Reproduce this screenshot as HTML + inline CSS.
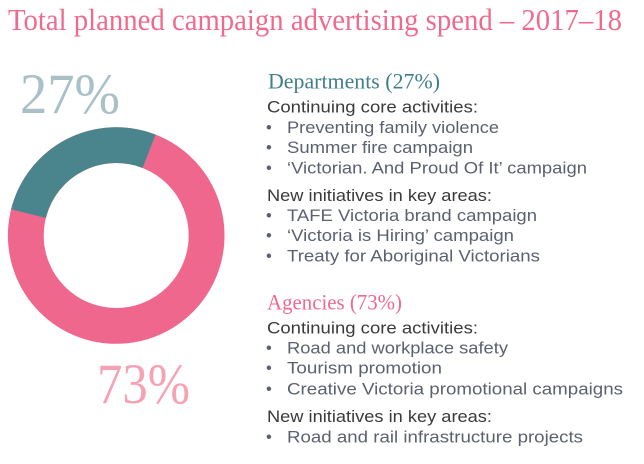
<!DOCTYPE html>
<html><head><meta charset="utf-8"><style>
html,body{margin:0;padding:0;background:#fff;}
svg{display:block;}
.serif{font-family:"Liberation Serif",serif;}
.sans{font-family:"Liberation Sans",sans-serif;font-size:16.5px;}
.h{fill:#3a3a3a;}
.b{fill:#5c6170;}
</style></head><body>
<svg width="644" height="464" viewBox="0 0 644 464" xmlns="http://www.w3.org/2000/svg">
<rect width="644" height="464" fill="#fff"/>
<text class="serif" x="8" y="30" font-size="31" fill="#f06a8e" textLength="614" lengthAdjust="spacingAndGlyphs">Total planned campaign advertising spend – 2017–18</text>

<circle cx="116.2" cy="235.5" r="90.4" fill="none" stroke="#f0678d" stroke-width="35.8"/>
<path d="M 11.12 209.3 A 108.3 108.3 0 0 1 155.55 134.6 L 142.54 167.95 A 72.5 72.5 0 0 0 45.85 217.96 Z" fill="#4a848d"/>

<text class="serif" x="20" y="113" font-size="57" fill="#a9c0c8" textLength="100" lengthAdjust="spacingAndGlyphs">27%</text>
<text class="serif" x="97" y="403" font-size="57" fill="#f6a2b5" textLength="93" lengthAdjust="spacingAndGlyphs">73%</text>

<text class="serif" x="268" y="88.5" font-size="22" fill="#3f7f8c" textLength="172" lengthAdjust="spacingAndGlyphs">Departments (27%)</text>
<text class="sans h" x="267" y="112.5" textLength="211" lengthAdjust="spacingAndGlyphs">Continuing core activities:</text>
<text class="sans b" x="266" y="133">•</text>
<text class="sans b" x="287" y="133" textLength="212" lengthAdjust="spacingAndGlyphs">Preventing family violence</text>
<text class="sans b" x="266" y="153">•</text>
<text class="sans b" x="287" y="153" textLength="186" lengthAdjust="spacingAndGlyphs">Summer fire campaign</text>
<text class="sans b" x="266" y="173.5">•</text>
<text class="sans b" x="287" y="173.5" textLength="300" lengthAdjust="spacingAndGlyphs">‘Victorian. And Proud Of It’ campaign</text>
<text class="sans h" x="267" y="201" textLength="225" lengthAdjust="spacingAndGlyphs">New initiatives in key areas:</text>
<text class="sans b" x="266" y="221">•</text>
<text class="sans b" x="287" y="221" textLength="250" lengthAdjust="spacingAndGlyphs">TAFE Victoria brand campaign</text>
<text class="sans b" x="266" y="241">•</text>
<text class="sans b" x="287" y="241" textLength="227" lengthAdjust="spacingAndGlyphs">‘Victoria is Hiring’ campaign</text>
<text class="sans b" x="266" y="261.5">•</text>
<text class="sans b" x="287" y="261.5" textLength="253" lengthAdjust="spacingAndGlyphs">Treaty for Aboriginal Victorians</text>

<text class="serif" x="267" y="309.5" font-size="22" fill="#f06a8e" textLength="135" lengthAdjust="spacingAndGlyphs">Agencies (73%)</text>
<text class="sans h" x="267" y="333.5" textLength="211" lengthAdjust="spacingAndGlyphs">Continuing core activities:</text>
<text class="sans b" x="266" y="353.5">•</text>
<text class="sans b" x="287" y="353.5" textLength="221" lengthAdjust="spacingAndGlyphs">Road and workplace safety</text>
<text class="sans b" x="266" y="373.5">•</text>
<text class="sans b" x="287" y="373.5" textLength="155" lengthAdjust="spacingAndGlyphs">Tourism promotion</text>
<text class="sans b" x="266" y="394.5">•</text>
<text class="sans b" x="287" y="394.5" textLength="336" lengthAdjust="spacingAndGlyphs">Creative Victoria promotional campaigns</text>
<text class="sans h" x="267" y="422" textLength="225" lengthAdjust="spacingAndGlyphs">New initiatives in key areas:</text>
<text class="sans b" x="266" y="442.5">•</text>
<text class="sans b" x="287" y="442.5" textLength="296" lengthAdjust="spacingAndGlyphs">Road and rail infrastructure projects</text>
</svg>
</body></html>
